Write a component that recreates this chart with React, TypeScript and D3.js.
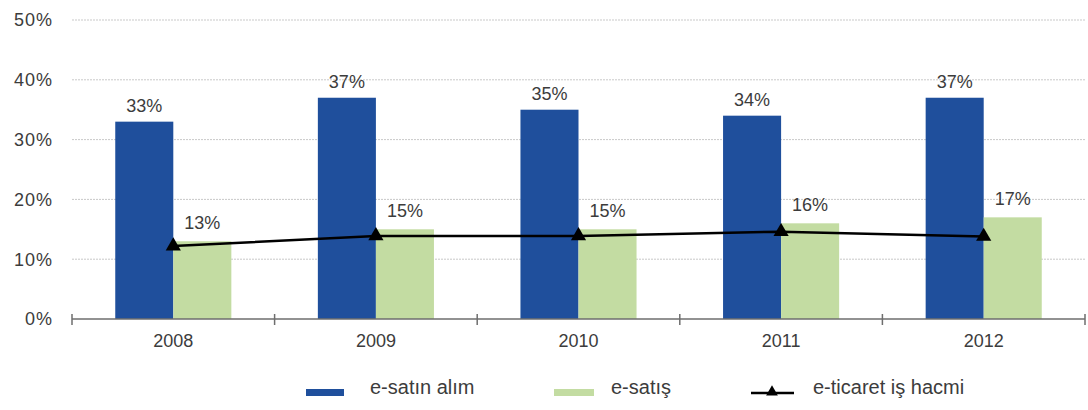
import React from "react";
import * as d3 from "d3";

const years = ["2008", "2009", "2010", "2011", "2012"];
const purchaseValues = [33, 37, 35, 34, 37]; // e-satın alım
const salesValues = [13, 15, 15, 16, 17]; // e-satış
const volumeValues = [12.2, 13.9, 13.9, 14.6, 13.8]; // e-ticaret iş hacmi
const yTicks = [0, 10, 20, 30, 40, 50];
const seriesNames = ["e-satın alım", "e-satış", "e-ticaret iş hacmi"];

const W = 1088;
const H = 410;
const BLUE = "#1f4f9c";
const GREEN = "#c3dca2";
const TEXT = "#3c3c3c";
const FONT = "Arial, 'Liberation Sans', sans-serif";

export default function App() {
  const left = 72;
  const right = 1085;
  const top = 20;
  const bottom = 319;

  const x = d3.scaleBand<string>().domain(years).range([left, right]).padding(0);
  const y = d3.scaleLinear().domain([0, 50]).range([bottom, top]);
  const groupW = x.bandwidth() * 0.573;
  const inner = d3
    .scaleBand<string>()
    .domain(["buy", "sell"])
    .range([0, groupW])
    .padding(0);
  const groupStart = (yr: string) => (x(yr) as number) + (x.bandwidth() - groupW) / 2;
  const cx = (yr: string) => (x(yr) as number) + x.bandwidth() / 2;

  const line = d3
    .line<number>()
    .x((_, i) => cx(years[i]))
    .y((d) => y(d));

  const tri = d3.symbol().type(d3.symbolTriangle).size(100);
  const triSmall = d3.symbol().type(d3.symbolTriangle).size(60);

  const boundaries = [...years.map((yr) => x(yr) as number), right];

  return (
    <svg width={W} height={H} style={{ position: "absolute", left: 0, top: 0, background: "#fff" }}>
      {/* grid lines */}
      {yTicks
        .filter((t) => t > 0)
        .map((t) => (
          <line
            key={t}
            x1={left}
            x2={right}
            y1={y(t)}
            y2={y(t)}
            stroke="#c9c9c9"
            strokeWidth={1}
            strokeDasharray="2,1"
          />
        ))}
      {/* y labels */}
      {yTicks.map((t) => (
        <text
          key={t}
          x={53}
          y={y(t)}
          dy="0.36em"
          textAnchor="end"
          fontFamily={FONT}
          fontSize={18}
          letterSpacing={1}
          fill={TEXT}
        >
          {`${t}%`}
        </text>
      ))}
      {/* bars */}
      {years.map((yr, i) => (
        <g key={yr}>
          <rect
            x={groupStart(yr) + (inner("buy") as number)}
            y={y(purchaseValues[i])}
            width={inner.bandwidth()}
            height={bottom - y(purchaseValues[i])}
            fill={BLUE}
          />
          <rect
            x={groupStart(yr) + (inner("sell") as number)}
            y={y(salesValues[i])}
            width={inner.bandwidth()}
            height={bottom - y(salesValues[i])}
            fill={GREEN}
          />
          <text
            x={groupStart(yr) + (inner("buy") as number) + inner.bandwidth() / 2}
            y={y(purchaseValues[i]) - 10}
            textAnchor="middle"
            fontFamily={FONT}
            fontSize={18}
            fill={TEXT}
          >
            {`${purchaseValues[i]}%`}
          </text>
          <text
            x={groupStart(yr) + (inner("sell") as number) + inner.bandwidth() / 2}
            y={y(salesValues[i]) - 12}
            textAnchor="middle"
            fontFamily={FONT}
            fontSize={18}
            fill={TEXT}
          >
            {`${salesValues[i]}%`}
          </text>
        </g>
      ))}
      {/* x axis */}
      <line x1={left} x2={right} y1={bottom} y2={bottom} stroke="#6e6e6e" strokeWidth={1.5} />
      {boundaries.map((b, i) => (
        <line key={i} x1={b} x2={b} y1={bottom - 5} y2={bottom + 6} stroke="#6e6e6e" strokeWidth={1.5} />
      ))}
      {years.map((yr) => (
        <text
          key={yr}
          x={cx(yr)}
          y={347}
          textAnchor="middle"
          fontFamily={FONT}
          fontSize={18}
          fill={TEXT}
        >
          {yr}
        </text>
      ))}
      {/* line series */}
      <path d={line(volumeValues) as string} fill="none" stroke="#000" strokeWidth={2.5} />
      {volumeValues.map((v, i) => (
        <path key={i} d={tri() as string} transform={`translate(${cx(years[i])},${y(v)})`} fill="#000" />
      ))}
      {/* legend */}
      <rect x={306} y={389} width={38} height={7} fill={BLUE} />
      <text x={370} y={394} fontFamily={FONT} fontSize={20} fill={TEXT}>
        {seriesNames[0]}
      </text>
      <rect x={554} y={389} width={40} height={7} fill={GREEN} />
      <text x={611} y={394} fontFamily={FONT} fontSize={20} fill={TEXT}>
        {seriesNames[1]}
      </text>
      <line x1={751} x2={794} y1={393} y2={393} stroke="#000" strokeWidth={2.5} />
      <path d={triSmall() as string} transform="translate(772,392)" fill="#000" />
      <text x={813} y={394} fontFamily={FONT} fontSize={20} fill={TEXT}>
        {seriesNames[2]}
      </text>
    </svg>
  );
}
